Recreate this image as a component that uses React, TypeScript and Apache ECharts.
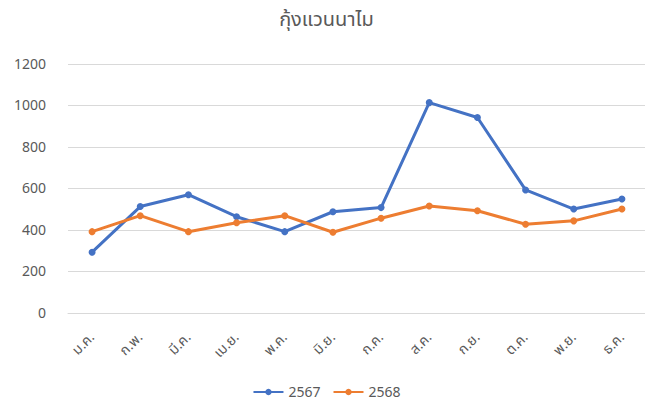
import React, { useEffect, useRef } from "react";
import * as echarts from "echarts";

const months = ["ม.ค.", "ก.พ.", "มี.ค.", "เม.ย.", "พ.ค.", "มิ.ย.", "ก.ค.", "ส.ค.", "ก.ย.", "ต.ค.", "พ.ย.", "ธ.ค."];
const series2567 = [293, 513, 570, 464, 392, 488, 508, 1014, 942, 593, 501, 549];
const series2568 = [392, 469, 392, 435, 469, 389, 457, 516, 493, 428, 444, 501];
const titleText = "กุ้งแวนนาไม";

const FONT = "'Leelawadee UI', Tahoma, 'Noto Sans Thai', 'Noto Sans', 'DejaVu Sans', sans-serif";

export default function App() {
  const ref = useRef<HTMLDivElement>(null);
  useEffect(() => {
    if (!ref.current) return;
    const chart = echarts.init(ref.current, undefined, { renderer: "svg" });
    chart.setOption({
      animation: false,
      backgroundColor: "#ffffff",
      title: {
        text: titleText,
        left: "center",
        top: 5,
        textStyle: { fontFamily: FONT, fontSize: 20, fontWeight: "normal", color: "#595959" },
      },
      legend: {
        bottom: 4,
        left: "center",
        itemWidth: 30,
        itemHeight: 8,
        itemGap: 12,
        textStyle: { fontFamily: FONT, fontSize: 14, color: "#595959" },
        data: ["2567", "2568"],
      },
      grid: { left: 68, right: 7, top: 64, bottom: 95, containLabel: false },
      xAxis: {
        type: "category",
        data: months,
        boundaryGap: true,
        axisLine: { show: true, lineStyle: { color: "#d9d9d9" } },
        axisTick: { show: false },
        axisLabel: {
          rotate: 45,
          margin: 22,
          interval: 0,
          fontFamily: FONT,
          fontSize: 14,
          color: "#595959",
        },
      },
      yAxis: {
        type: "value",
        min: 0,
        max: 1200,
        interval: 200,
        axisLine: { show: false },
        axisTick: { show: false },
        splitLine: { lineStyle: { color: "#d9d9d9", width: 1 } },
        axisLabel: {
          margin: 22,
          fontFamily: FONT,
          fontSize: 14,
          color: "#595959",
          formatter: (v: number) => String(v),
        },
      },
      series: [
        {
          name: "2567",
          type: "line",
          data: series2567,
          symbol: "circle",
          symbolSize: 7,
          itemStyle: { color: "#4472C4" },
          lineStyle: { color: "#4472C4", width: 3 },
        },
        {
          name: "2568",
          type: "line",
          data: series2568,
          symbol: "circle",
          symbolSize: 7,
          itemStyle: { color: "#ED7D31" },
          lineStyle: { color: "#ED7D31", width: 3 },
        },
      ],
    });
    return () => chart.dispose();
  }, []);
  return <div ref={ref} style={{ width: 653, height: 408, margin: -8 }} />;
}
